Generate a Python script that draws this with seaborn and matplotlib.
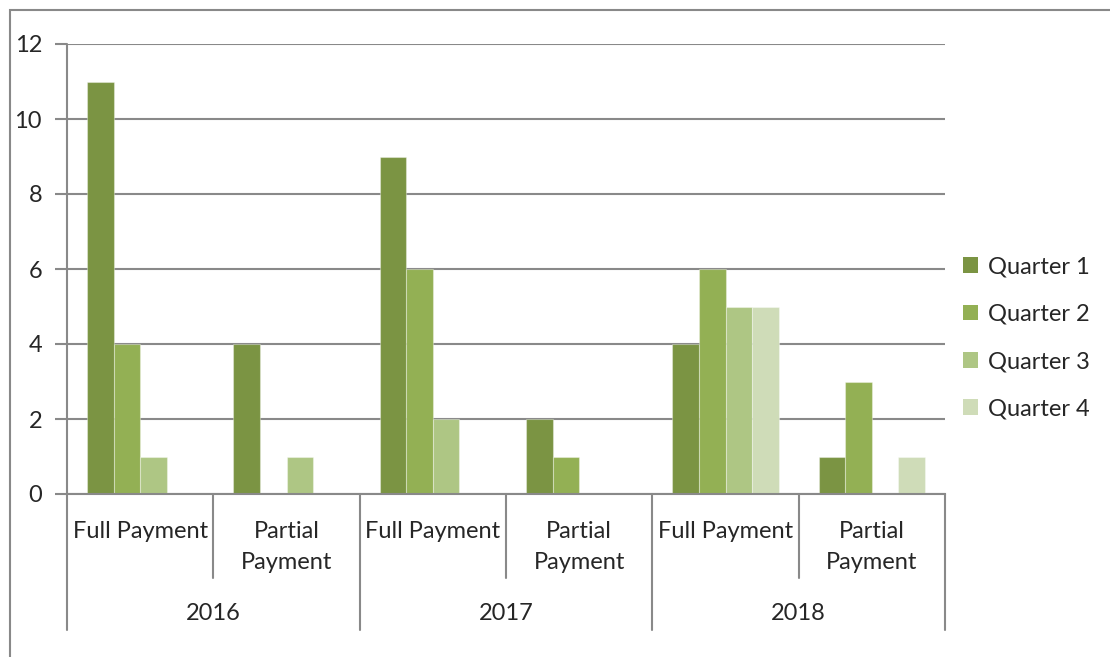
import numpy as np
import pandas as pd
import matplotlib
matplotlib.use("Agg")
import matplotlib.pyplot as plt
import matplotlib.transforms as mtrans
from matplotlib.patches import Rectangle, Patch
import seaborn as sns

# data
years = ["2016", "2017", "2018"]
payment_types = ["Full Payment", "Partial\nPayment"]
quarters = ["Quarter 1", "Quarter 2", "Quarter 3", "Quarter 4"]
q1 = [11, 4, 9, 2, 4, 1]
q2 = [4, 0, 6, 1, 6, 3]
q3 = [1, 1, 2, 0, 5, 0]
q4 = [0, 0, 0, 0, 5, 1]
colors = ["#7b9443", "#93b054", "#aec684", "#cfdcb8"]

groups = [f"{y} {p}" for y in years for p in payment_types]
rows = []
for qname, vals in zip(quarters, [q1, q2, q3, q4]):
    for g, v in zip(groups, vals):
        rows.append({"group": g, "quarter": qname, "count": v})
df = pd.DataFrame(rows)

sns.set_style("white")
plt.rcParams["font.family"] = ["Lato", "DejaVu Sans"]
gray = "#898989"
fs = 17

fig = plt.figure(figsize=(11.10, 6.57), dpi=100)
ax = fig.add_axes([67 / 1110, 1 - 494 / 657, (945 - 67) / 1110, (494 - 44) / 657])

sns.barplot(data=df, x="group", y="count", hue="quarter", order=groups,
            hue_order=quarters, palette=colors, width=0.727, gap=0,
            edgecolor=(1, 1, 1, 0.35), linewidth=0.8, saturation=1,
            legend=False, ax=ax)

# hide empty bars so they don't draw a line on the baseline
for p in ax.patches:
    if p.get_height() == 0:
        p.set_visible(False)

ax.set_xlim(-0.5, len(groups) - 0.5)
ax.set_ylim(0, 12)
ax.set_yticks(range(0, 13, 2))
ax.yaxis.grid(True, color=gray, linewidth=1.5)
ax.set_axisbelow(True)
ax.tick_params(axis="y", direction="out", length=9, width=1.5, color=gray,
               pad=9, labelsize=fs, left=True)
ax.set_xticks([])
ax.set_xlabel("")
ax.set_ylabel("")
for side in ["top", "right", "left"]:
    ax.spines[side].set_visible(False)
ax.spines["bottom"].set_color(gray)
ax.spines["bottom"].set_linewidth(1.5)

# multi-level category axis
trans = mtrans.blended_transform_factory(ax.transData, ax.transAxes)
ax_h = 494 - 44
short = -(578 - 494) / ax_h
long = -(630 - 494) / ax_h
ax.plot([-0.5, -0.5], [1, long], color=gray, lw=1.5, transform=trans, clip_on=False)
for i in range(len(groups)):
    bottom = long if i % 2 == 1 else short
    ax.plot([i + 0.5, i + 0.5], [0, bottom], color=gray, lw=1.5,
            transform=trans, clip_on=False)
    ax.text(i, -(521 - 494) / ax_h, payment_types[i % 2], transform=trans,
            ha="center", va="top", fontsize=fs, linespacing=1.6)
for j, y in enumerate(years):
    ax.text(2 * j + 0.5, -(613 - 494) / ax_h, y, transform=trans,
            ha="center", va="center", fontsize=fs)

handles = [Patch(facecolor=c, edgecolor="none") for c in colors]
ax.legend(handles, quarters, loc="center left",
          bbox_to_anchor=(963 / 1110, 1 - 338 / 657),
          bbox_transform=fig.transFigure, frameon=False, fontsize=fs,
          handlelength=0.65, handleheight=0.65, handletextpad=0.4,
          labelspacing=1.12, borderaxespad=0, borderpad=0)

# outer chart frame (cropped on the right and bottom)
fig.patches.append(Rectangle((10 / 1110, -0.1), 2, 1 - 10 / 657 + 0.1,
                             transform=fig.transFigure, fill=False,
                             edgecolor=gray, linewidth=1.5))

fig.savefig("out.png", dpi=100)
